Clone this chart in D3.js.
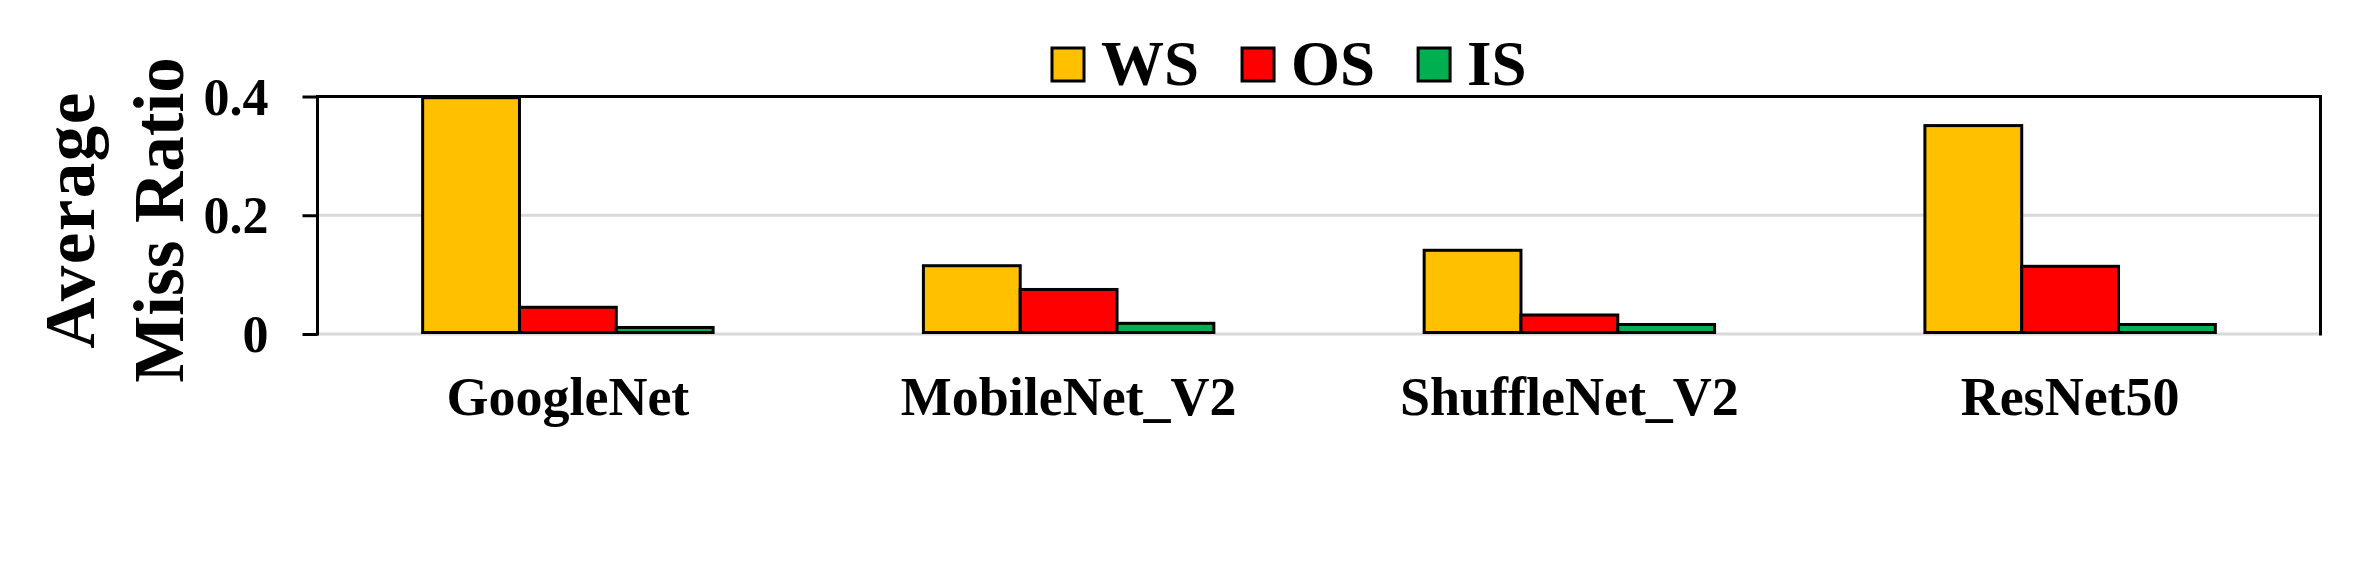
<!DOCTYPE html>
<html><head><meta charset="utf-8">
<script src="https://cdn.jsdelivr.net/npm/d3@7"></script>
<style>html,body{margin:0;padding:0;background:#fff;}svg{display:block;}</style>
</head><body>
<script>
const categories = ["GoogleNet", "MobileNet_V2", "ShuffleNet_V2", "ResNet50"];
const seriesNames = ["WS", "OS", "IS"];
const wsValues = [0.398, 0.115, 0.141, 0.351];
const osValues = [0.045, 0.075, 0.032, 0.114];
const isValues = [0.011, 0.018, 0.016, 0.016];
const seriesColors = ["#FFC000", "#FF0000", "#00B050"];
const yTicks = [0, 0.2, 0.4];
const yTickLabels = ["0", "0.2", "0.4"];

const W = 2371, H = 569;
const m = {left: 317.5, right: 2320.5, top: 96.5, bottom: 334};
const font = "'Liberation Serif','Times New Roman',serif";

const svg = d3.select("body").append("svg").attr("width", W).attr("height", H);

const x0 = d3.scaleBand().domain(categories).range([m.left, m.right]).paddingInner(0.42).paddingOuter(0.21);
const x1 = d3.scaleBand().domain(seriesNames).range([0, x0.bandwidth()]);
const y = d3.scaleLinear().domain([0, 0.4]).range([m.bottom, m.top]);

const data = categories.map((c, i) => ({cat: c, vals: [wsValues[i], osValues[i], isValues[i]]}));

// gridlines
svg.append("g").selectAll("line").data(yTicks.filter(t => t < 0.4)).join("line")
  .attr("x1", m.left).attr("x2", m.right)
  .attr("y1", d => y(d)).attr("y2", d => y(d))
  .attr("stroke", "#d9d9d9").attr("stroke-width", 3);

// bars
svg.append("g").selectAll("g").data(data).join("g")
  .attr("transform", d => `translate(${x0(d.cat)},0)`)
  .selectAll("rect").data(d => d.vals.map((v, j) => ({s: seriesNames[j], v, j}))).join("rect")
  .attr("x", d => x1(d.s)).attr("width", x1.bandwidth())
  .attr("y", d => y(d.v)).attr("height", d => y(0) - y(d.v) - 1.5)
  .attr("fill", d => seriesColors[d.j]).attr("stroke", "#000").attr("stroke-width", 3);

// frame: top and right black lines
svg.append("line").attr("x1", m.left).attr("x2", m.right).attr("y1", y(0.4)).attr("y2", y(0.4))
  .attr("stroke", "#000").attr("stroke-width", 3);
svg.append("line").attr("x1", m.right).attr("x2", m.right).attr("y1", y(0.4) - 1.5).attr("y2", y(0) + 1.5)
  .attr("stroke", "#000").attr("stroke-width", 3);

// y axis
const yAxis = d3.axisLeft(y).tickValues(yTicks).tickFormat((d, i) => yTickLabels[i]).tickSize(15).tickPadding(34);
const ya = svg.append("g").attr("transform", `translate(${m.left},0)`).call(yAxis);
ya.select(".domain").attr("stroke", "#000").attr("stroke-width", 3).attr("d", `M0,${y(0.4) - 1.5}V${y(0) + 1.5}`);
ya.selectAll(".tick line").attr("stroke", "#000").attr("stroke-width", 3);
ya.selectAll(".tick text").attr("font-family", font).attr("font-weight", "bold").attr("font-size", 52)
  .attr("fill", "#000").attr("dy", "0.34em");

// x axis labels
const xa = svg.append("g").attr("transform", `translate(0,${m.bottom})`)
  .call(d3.axisBottom(x0).tickSize(0).tickPadding(0));
xa.select(".domain").remove();
xa.selectAll(".tick text").attr("font-family", font).attr("font-weight", "bold").attr("font-size", 54)
  .attr("fill", "#000").attr("y", 81).attr("dy", 0);

// y title
const yt = svg.append("text").attr("transform", `translate(94,220) rotate(-90)`)
  .attr("font-family", font).attr("font-weight", "bold").attr("font-size", 71)
  .attr("text-anchor", "middle").attr("fill", "#000");
yt.append("tspan").attr("x", 0).attr("y", 0).attr("letter-spacing", 1.5).text("Average");
yt.append("tspan").attr("x", 0).attr("y", 88.5).text("Miss Ratio");

// legend
const leg = svg.append("g");
let lx = 1052;
seriesNames.forEach((s, i) => {
  leg.append("rect").attr("x", lx).attr("y", 48).attr("width", 32).attr("height", 33)
    .attr("fill", seriesColors[i]).attr("stroke", "#000").attr("stroke-width", 3);
  const t = leg.append("text").attr("x", lx + 49).attr("y", 84.5)
    .attr("font-family", font).attr("font-weight", "bold").attr("font-size", 63).attr("fill", "#000").text(s);
  const w = t.node().getComputedTextLength();
  lx = lx + 49 + w + 43;
});
</script>
</body></html>
